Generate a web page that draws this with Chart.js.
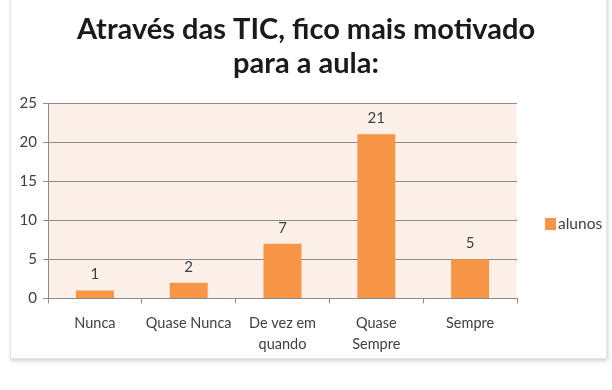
<!DOCTYPE html>
<html>
<head>
<meta charset="utf-8">
<script src="https://cdn.jsdelivr.net/npm/chart.js@4/dist/chart.umd.min.js"></script>
<style>
  html, body { margin: 0; padding: 0; background: #fff; }
  #frame {
    position: absolute; left: 10px; top: -4px; width: 595px; height: 361px;
    border: 1px solid #e6e6e6; background: #fff;
    box-shadow: 1px 2px 4px rgba(0,0,0,0.18);
  }
  #wrap { position: absolute; left: 0; top: 0; width: 612px; height: 390px; }
</style>
</head>
<body>
<div id="frame"></div>
<div id="wrap"><canvas id="chart" width="612" height="390"></canvas></div>
<script>
// ── Data ─────────────────────────────────────────────
const categories  = ['Nunca', 'Quase Nunca', ['De vez em', 'quando'], ['Quase', 'Sempre'], 'Sempre'];
const alunos      = [1, 2, 7, 21, 5];
const yTicks      = [0, 5, 10, 15, 20, 25];
const seriesLabel = 'alunos';

const barColor  = '#f79646';
const textColor = '#404040';
const gridColor = '#8c8c8c';
const font      = "Lato, sans-serif";

// plot background
const plotBg = {
  id: 'plotBg',
  beforeDraw(chart) {
    const { ctx, chartArea: a } = chart;
    ctx.save();
    ctx.fillStyle = '#fdf0e8';
    ctx.fillRect(a.left, a.top, a.right - a.left, a.bottom - a.top);
    ctx.restore();
  },
};

// value labels above bars + legend on the right
const overlay = {
  id: 'overlay',
  afterDatasetsDraw(chart) {
    const { ctx, chartArea: a } = chart;
    const meta = chart.getDatasetMeta(0);
    ctx.save();
    ctx.font = `15px ${font}`;
    ctx.fillStyle = textColor;
    ctx.textAlign = 'center';
    ctx.textBaseline = 'middle';
    meta.data.forEach((bar, i) => {
      ctx.fillText(String(alunos[i]), bar.x, bar.y - 16);
    });

    // legend
    const lx = a.right + 28, ly = 224;
    ctx.fillStyle = barColor;
    ctx.fillRect(lx, ly - 6, 11, 12);
    ctx.fillStyle = textColor;
    ctx.textAlign = 'left';
    ctx.font = `15.5px ${font}`;
    ctx.fillText(seriesLabel, lx + 13, ly);
    ctx.restore();
  },
};

new Chart(document.getElementById('chart'), {
  type: 'bar',
  data: {
    labels: categories,
    datasets: [{
      label: seriesLabel,
      data: alunos,
      backgroundColor: barColor,
      borderWidth: 0,
      categoryPercentage: 0.81,
      barPercentage: 0.5,
    }],
  },
  options: {
    responsive: false,
    animation: false,
    layout: { padding: { left: 12, right: 12, top: 8, bottom: 26 } },
    plugins: {
      title: {
        display: true,
        text: ['Através das TIC, fico mais motivado', 'para a aula:'],
        color: '#1a1a1a',
        font: { family: font, size: 29, weight: 'bold', lineHeight: 1.19 },
        padding: { top: 4, bottom: 22 },
      },
      legend: { display: false },
      tooltip: { enabled: false },
    },
    scales: {
      y: {
        min: 0, max: 25,
        afterBuildTicks: s => { s.ticks = yTicks.map(v => ({ value: v })); },
        afterFit: s => { s.width = 36; },
        ticks: { color: textColor, font: { family: font, size: 15 }, padding: 6 },
        grid: { color: gridColor, tickLength: 5, tickColor: gridColor },
        border: { color: gridColor },
      },
      // empty right-hand axis, only reserves room for the legend
      yRight: {
        position: 'right',
        min: 0, max: 25,
        afterFit: s => { s.width = 83; },
        ticks: { display: false },
        grid: { display: false },
        border: { display: false },
      },
      x: {
        offset: true,
        ticks: { color: textColor, font: { family: font, size: 14.5, lineHeight: 1.4 }, padding: 10, maxRotation: 0, autoSkip: false },
        grid: { offset: true, drawOnChartArea: false, tickLength: 5, color: gridColor },
        border: { color: gridColor },
      },
    },
  },
  plugins: [plotBg, overlay],
});
</script>
</body>
</html>
